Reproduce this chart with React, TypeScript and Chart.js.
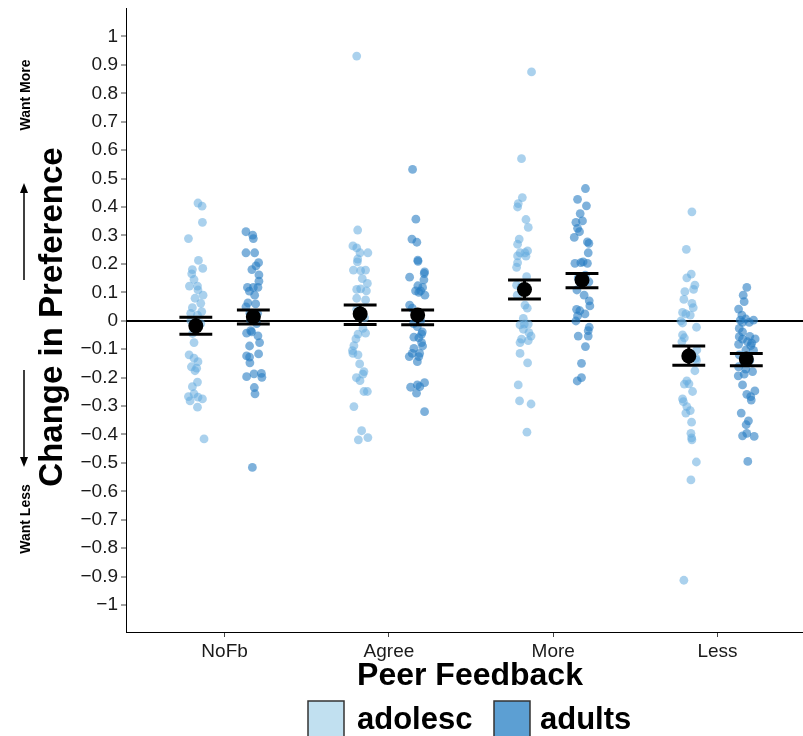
import React, { useEffect, useRef } from "react";
import { Chart, registerables } from "chart.js";

Chart.register(...registerables);

const FONT = "'Liberation Sans', Arial, sans-serif";

const categories = ["NoFb", "Agree", "More", "Less"];
const groups = ["adolesc", "adults"];
const yTickValues = [-1, -0.9, -0.8, -0.7, -0.6, -0.5, -0.4, -0.3, -0.2, -0.1, 0, 0.1, 0.2, 0.3, 0.4, 0.5, 0.6, 0.7, 0.8, 0.9, 1];

// [jitter, value] pairs
const nofbAdol = [
  [0.013, 0.414], [0.038, 0.403], [0.04, 0.346], [-0.045, 0.289], [0.016, 0.212], [-0.021, 0.18], [0.042, 0.184],
  [-0.025, 0.165], [-0.011, 0.145], [-0.039, 0.122], [0.01, 0.122], [0.013, 0.108], [0.044, 0.09], [-0.005, 0.079],
  [0.03, 0.061], [-0.021, 0.046], [0.036, 0.032], [-0.031, 0.026], [0.01, 0.02], [-0.03, 0.0], [0.03, -0.01],
  [-0.02, -0.045], [-0.011, -0.077], [-0.041, -0.12], [-0.011, -0.132], [0.013, -0.144], [-0.027, -0.162],
  [0.005, -0.167], [-0.005, -0.176], [0.01, -0.216], [-0.021, -0.232], [-0.011, -0.257], [-0.045, -0.267],
  [0.04, -0.275], [0.013, -0.269], [-0.035, -0.282], [0.01, -0.304], [0.05, -0.416],
];
const nofbAdult = [
  [-0.045, 0.313], [-0.004, 0.301], [0.0, 0.289], [-0.045, 0.239], [0.008, 0.239], [0.032, 0.204], [0.016, 0.193],
  [-0.009, 0.18], [0.034, 0.161], [0.034, 0.139], [-0.036, 0.117], [0.0, 0.117], [0.028, 0.117], [-0.024, 0.104],
  [0.008, 0.09], [-0.033, 0.063], [0.014, 0.059], [-0.045, 0.049], [-0.021, 0.026], [0.026, 0.026], [-0.016, 0.0],
  [0.02, -0.01], [-0.041, -0.044], [-0.016, -0.035], [0.028, -0.053], [-0.01, -0.039], [0.038, -0.077],
  [-0.023, -0.089], [-0.041, -0.124], [-0.023, -0.128], [0.032, -0.117], [-0.021, -0.148], [-0.041, -0.197],
  [0.004, -0.187], [0.049, -0.185], [0.052, -0.199], [0.006, -0.235], [0.01, -0.257], [-0.006, -0.516],
];
const agreeAdol = [
  [-0.021, 0.931], [-0.015, 0.319], [-0.044, 0.263], [-0.021, 0.256], [-0.001, 0.239], [0.047, 0.239], [-0.015, 0.217],
  [-0.017, 0.207], [-0.041, 0.178], [0.003, 0.176], [0.033, 0.178], [0.013, 0.148], [0.044, 0.131], [-0.021, 0.11],
  [0.003, 0.112], [0.038, 0.105], [-0.021, 0.079], [0.033, 0.073], [-0.021, 0.04], [0.027, 0.01], [0.017, -0.027],
  [-0.013, -0.047], [0.033, -0.044], [-0.026, -0.064], [-0.038, -0.088], [-0.047, -0.105], [-0.044, -0.115],
  [-0.013, -0.12], [-0.003, -0.152], [0.023, -0.179], [0.017, -0.188], [-0.023, -0.2], [-0.001, -0.211],
  [0.023, -0.249], [0.044, -0.249], [-0.038, -0.302], [0.009, -0.387], [-0.011, -0.419], [0.047, -0.411],
];
const agreeAdult = [
  [-0.031, 0.532], [-0.011, 0.357], [-0.035, 0.287], [-0.005, 0.276], [0.001, 0.213], [0.002, 0.209], [0.042, 0.172],
  [0.04, 0.166], [-0.049, 0.153], [0.038, 0.144], [0.001, 0.123], [0.03, 0.117], [-0.013, 0.105], [0.018, 0.105],
  [0.007, 0.1], [0.044, 0.09], [-0.049, 0.055], [-0.033, 0.044], [0.018, 0.0], [-0.025, -0.01], [-0.002, -0.021],
  [0.028, -0.039], [-0.023, -0.058], [0.024, -0.047], [0.007, -0.06], [0.024, -0.077], [0.03, -0.089],
  [-0.023, -0.097], [0.012, -0.115], [-0.051, -0.126], [-0.033, -0.115], [-0.002, -0.144], [0.007, -0.126],
  [-0.043, -0.234], [-0.002, -0.226], [0.013, -0.232], [0.042, -0.218], [-0.007, -0.255], [0.042, -0.32],
];
const moreAdol = [
  [0.043, 0.875], [-0.018, 0.57], [-0.013, 0.433], [-0.038, 0.412], [-0.042, 0.4], [0.009, 0.356], [0.023, 0.328],
  [-0.032, 0.287], [-0.042, 0.269], [0.019, 0.246], [-0.027, 0.239], [0.003, 0.239], [-0.042, 0.228], [0.009, 0.227],
  [-0.042, 0.204], [-0.048, 0.188], [0.013, 0.155], [-0.048, 0.125], [-0.022, 0.118], [-0.044, 0.09], [0.003, 0.055],
  [0.017, 0.044], [-0.007, 0.008], [-0.027, -0.015], [-0.001, -0.012], [0.023, -0.012], [-0.007, -0.03],
  [0.027, -0.042], [0.04, -0.054], [-0.018, -0.065], [-0.027, -0.077], [0.023, -0.07], [-0.027, -0.115],
  [0.019, -0.148], [-0.038, -0.226], [-0.03, -0.282], [0.04, -0.293], [0.015, -0.392],
];
const moreAdult = [
  [0.021, 0.465], [-0.027, 0.427], [0.027, 0.404], [-0.011, 0.377], [0.003, 0.351], [-0.037, 0.346], [-0.027, 0.325],
  [-0.015, 0.313], [-0.047, 0.293], [0.033, 0.277], [0.042, 0.272], [0.038, 0.239], [-0.043, 0.202], [-0.007, 0.204],
  [0.007, 0.207], [0.033, 0.202], [-0.023, 0.15], [0.02, 0.16], [0.042, 0.137], [-0.031, 0.108], [0.013, 0.09],
  [0.044, 0.07], [0.048, 0.052], [-0.033, 0.04], [-0.013, 0.035], [0.018, 0.024], [-0.027, 0.017], [-0.037, -0.001],
  [0.044, -0.023], [0.038, -0.035], [-0.023, -0.054], [0.038, -0.054], [0.021, -0.091], [-0.003, -0.15],
  [-0.003, -0.2], [-0.029, -0.212],
];
const lessAdol = [
  [0.019, 0.383], [-0.015, 0.251], [-0.012, 0.151], [0.015, 0.164], [0.037, 0.125], [0.029, 0.11], [-0.024, 0.102],
  [-0.03, 0.075], [0.019, 0.061], [0.027, 0.046], [-0.038, 0.029], [-0.018, 0.024], [0.009, 0.02], [-0.048, -0.001],
  [-0.038, -0.008], [0.047, -0.023], [-0.038, -0.05], [-0.027, -0.06], [-0.042, -0.074], [0.049, -0.103],
  [0.0, -0.12], [0.043, -0.132], [0.047, -0.14], [0.037, -0.176], [-0.012, -0.212], [-0.027, -0.223], [0.001, -0.222],
  [0.023, -0.249], [-0.038, -0.275], [-0.033, -0.285], [-0.012, -0.302], [0.009, -0.316], [-0.018, -0.325],
  [0.017, -0.357], [0.013, -0.396], [0.019, -0.419], [0.017, -0.412], [0.046, -0.497], [0.013, -0.56], [-0.03, -0.913],
];
const lessAdult = [
  [0.003, 0.117], [-0.019, 0.09], [-0.013, 0.067], [-0.047, 0.041], [-0.027, 0.02], [-0.037, 0.002], [-0.003, 0.006],
  [0.044, 0.002], [0.018, -0.006], [-0.023, -0.006], [-0.043, -0.027], [-0.023, -0.039], [-0.043, -0.056],
  [0.021, -0.055], [0.054, -0.064], [-0.023, -0.065], [0.007, -0.074], [0.033, -0.079], [-0.047, -0.083],
  [0.027, -0.088], [-0.003, -0.103], [0.044, -0.104], [-0.043, -0.12], [0.021, -0.14], [-0.047, -0.162],
  [0.038, -0.179], [-0.003, -0.17], [-0.049, -0.194], [-0.013, -0.188], [-0.023, -0.226], [0.052, -0.247],
  [0.003, -0.259], [0.027, -0.267], [0.03, -0.279], [-0.031, -0.325], [0.013, -0.352], [-0.001, -0.366],
  [0.003, -0.396], [-0.023, -0.405], [0.048, -0.407], [0.009, -0.495],
];

const adolPoints = [nofbAdol, agreeAdol, moreAdol, lessAdol];
const adultPoints = [nofbAdult, agreeAdult, moreAdult, lessAdult];

// means and error bar limits
const adolMeans = [-0.018, 0.024, 0.11, -0.124];
const adolLow = [-0.048, -0.013, 0.076, -0.157];
const adolHigh = [0.012, 0.055, 0.143, -0.089];
const adultMeans = [0.014, 0.02, 0.143, -0.135];
const adultLow = [-0.012, -0.014, 0.116, -0.158];
const adultHigh = [0.038, 0.038, 0.166, -0.115];

const DODGE = 0.175;
const CAP_HALF = 0.1;

const adolColor = "rgba(100,172,222,0.55)";
const adultColor = "rgba(40,125,195,0.6)";
const legendColors = ["#c1e0f0", "#5c9fd3"];

function fmtTick(v: number) {
  const r = Math.round(v * 10) / 10;
  const s = String(Math.abs(r));
  return r < 0 ? "\u2212" + s : s;
}

const decorPlugin = {
  id: "decor",
  afterDatasetDraw(chart: any, args: any) {
    if (args.index !== 1) return;
    const { ctx, scales } = chart;
    const xs = scales.x;
    const ys = scales.y;
    ctx.save();
    ctx.strokeStyle = "#000";
    ctx.lineWidth = 3;
    const sets = [
      { off: -DODGE, lo: adolLow, hi: adolHigh },
      { off: DODGE, lo: adultLow, hi: adultHigh },
    ];
    sets.forEach((s) => {
      categories.forEach((_, i) => {
        const cx = xs.getPixelForValue(i + 1 + s.off);
        const x0 = xs.getPixelForValue(i + 1 + s.off - CAP_HALF);
        const x1 = xs.getPixelForValue(i + 1 + s.off + CAP_HALF);
        const yl = ys.getPixelForValue(s.lo[i]);
        const yh = ys.getPixelForValue(s.hi[i]);
        ctx.beginPath();
        ctx.moveTo(x0, yl); ctx.lineTo(x1, yl);
        ctx.moveTo(x0, yh); ctx.lineTo(x1, yh);
        ctx.moveTo(cx, yl); ctx.lineTo(cx, yh);
        ctx.stroke();
      });
    });
    ctx.restore();
  },
  afterDraw(chart: any) {
    const { ctx } = chart;
    ctx.save();
    ctx.fillStyle = "#000";
    ctx.strokeStyle = "#000";
    // x title
    ctx.font = `bold 32px ${FONT}`;
    ctx.textAlign = "center";
    ctx.textBaseline = "middle";
    ctx.fillText("Peer Feedback", 470, 676);
    // y title
    ctx.save();
    ctx.translate(62, 317);
    ctx.rotate(-Math.PI / 2);
    ctx.font = `bold 33px ${FONT}`;
    ctx.textBaseline = "alphabetic";
    ctx.fillText("Change in Preference", 0, 0);
    ctx.restore();
    // want more / less
    ctx.font = `bold 14px ${FONT}`;
    ctx.save();
    ctx.translate(30, 95);
    ctx.rotate(-Math.PI / 2);
    ctx.textBaseline = "alphabetic";
    ctx.fillText("Want More", 0, 0);
    ctx.restore();
    ctx.save();
    ctx.translate(30, 519);
    ctx.rotate(-Math.PI / 2);
    ctx.textBaseline = "alphabetic";
    ctx.fillText("Want Less", 0, 0);
    ctx.restore();
    ctx.lineWidth = 1.5;
    ctx.beginPath();
    ctx.moveTo(24, 280); ctx.lineTo(24, 190);
    ctx.moveTo(24, 370); ctx.lineTo(24, 460);
    ctx.stroke();
    ctx.beginPath();
    ctx.moveTo(24, 183); ctx.lineTo(20, 193); ctx.lineTo(28, 193); ctx.closePath();
    ctx.fill();
    ctx.beginPath();
    ctx.moveTo(24, 467); ctx.lineTo(20, 457); ctx.lineTo(28, 457); ctx.closePath();
    ctx.fill();
    // legend
    const boxes = [308, 494];
    const texts = [357, 540];
    groups.forEach((g, i) => {
      ctx.fillStyle = legendColors[i];
      ctx.fillRect(boxes[i], 701, 36, 36);
      ctx.lineWidth = 1.5;
      ctx.strokeStyle = "#333";
      ctx.strokeRect(boxes[i], 701, 36, 36);
      ctx.fillStyle = "#000";
      ctx.font = `bold 31px ${FONT}`;
      ctx.textAlign = "left";
      ctx.textBaseline = "middle";
      ctx.fillText(g, texts[i], 720);
    });
    ctx.restore();
  },
};

export default function App() {
  const ref = useRef<HTMLCanvasElement | null>(null);
  useEffect(() => {
    if (!ref.current) return;
    const adolData: any[] = [];
    const adultData: any[] = [];
    adolPoints.forEach((arr, i) => arr.forEach(([j, v]) => adolData.push({ x: i + 1 - DODGE + j, y: v })));
    adultPoints.forEach((arr, i) => arr.forEach(([j, v]) => adultData.push({ x: i + 1 + DODGE + j, y: v })));
    const meanData: any[] = [];
    categories.forEach((_, i) => {
      meanData.push({ x: i + 1 - DODGE, y: adolMeans[i] });
      meanData.push({ x: i + 1 + DODGE, y: adultMeans[i] });
    });
    const chart = new Chart(ref.current, {
      type: "scatter",
      data: {
        datasets: [
          { label: "means", data: meanData, order: 0, pointRadius: 7.5, pointBackgroundColor: "#000", pointBorderWidth: 0, borderColor: "#000" },
          { label: "adults", data: adultData, order: 1, pointRadius: 4.4, pointBackgroundColor: adultColor, pointBorderWidth: 0, borderColor: "transparent" },
          { label: "adolesc", data: adolData, order: 2, pointRadius: 4.4, pointBackgroundColor: adolColor, pointBorderWidth: 0, borderColor: "transparent" },
        ],
      },
      options: {
        animation: false,
        responsive: false,
        devicePixelRatio: 1,
        layout: { autoPadding: false, padding: { top: 8, right: 0, bottom: 0, left: 0 } },
        plugins: { legend: { display: false }, tooltip: { enabled: false } },
        scales: {
          x: {
            type: "linear",
            min: 0.4,
            max: 4.52,
            afterBuildTicks: (s: any) => { s.ticks = categories.map((_, i) => ({ value: i + 1 })); },
            afterFit: (s: any) => { s.height = 104; s.paddingLeft = 0; s.paddingRight = 0; },
            ticks: {
              autoSkip: false,
              maxRotation: 0,
              padding: 3,
              color: "#1a1a1a",
              font: { size: 19, family: FONT },
              callback: (_v: any, i: number) => categories[i],
            },
            grid: { drawOnChartArea: false, tickColor: "#444", tickLength: 5, tickWidth: 1 },
            border: { display: true, color: "#000", width: 1 },
          },
          y: {
            type: "linear",
            min: -1.095,
            max: 1.1,
            afterBuildTicks: (s: any) => { s.ticks = yTickValues.map((v) => ({ value: v })); },
            afterFit: (s: any) => { s.width = 126; s.paddingTop = 0; s.paddingBottom = 0; },
            ticks: {
              autoSkip: false,
              padding: 3,
              color: "#1a1a1a",
              font: { size: 19, family: FONT },
              callback: (v: any) => fmtTick(Number(v)),
            },
            grid: {
              color: (c: any) => (c.tick && c.tick.value === 0 ? "#000" : "rgba(0,0,0,0)"),
              lineWidth: (c: any) => (c.tick && c.tick.value === 0 ? 2 : 0),
              tickColor: "#444",
              tickLength: 5,
              tickWidth: 1,
            },
            border: { display: true, color: "#000", width: 1 },
          },
        },
      },
      plugins: [decorPlugin],
    } as any);
    return () => chart.destroy();
  }, []);
  return (
    <div style={{ position: "absolute", left: 0, top: 0, width: 803, height: 736, background: "#fff" }}>
      <canvas ref={ref} width={803} height={736} style={{ display: "block", width: 803, height: 736 }} />
    </div>
  );
}
